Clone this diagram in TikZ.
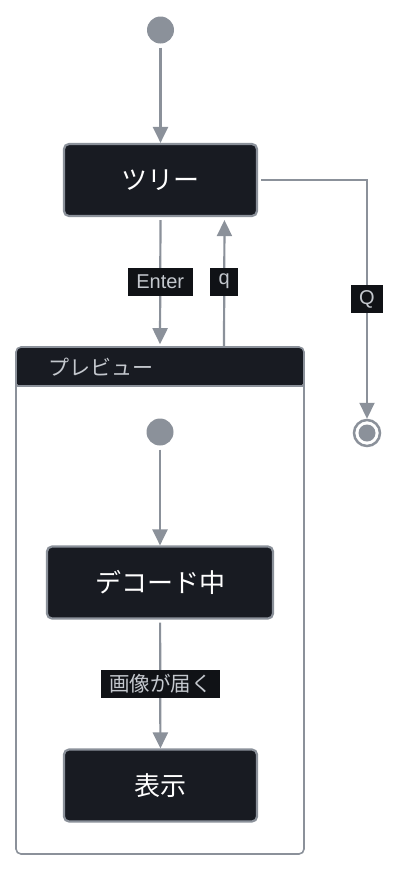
\documentclass[tikz,border=0pt]{standalone}
\usepackage{fontspec}
\setmainfont{Liberation Sans}
\newfontfamily\jpfont{Noto Sans CJK JP}
\usetikzlibrary{calc, positioning, arrows.meta}
\definecolor{stateFill}{HTML}{181B22}
\definecolor{edgeGray}{HTML}{8B919A}
\definecolor{labelFill}{HTML}{101216}
\definecolor{labelText}{HTML}{C4C8CE}

\tikzset{
  state/.style={draw=edgeGray, line width=2.2pt, fill=stateFill, rounded corners=5pt,
    text=white, font=\jpfont\fontsize{26}{30}\selectfont, minimum height=72pt, inner sep=0pt},
  startdot/.style={circle, fill=edgeGray, minimum size=27pt, inner sep=0pt},
  enddot/.style={circle, draw=edgeGray, line width=2.5pt, fill=white, minimum size=26pt, inner sep=0pt,
    path picture={\fill[edgeGray] (path picture bounding box.center) circle (8.5pt);}},
  trans/.style={draw=edgeGray, line width=2.2pt, -{Triangle[width=15pt,length=16pt]}},
  elabel/.style={fill=labelFill, text=labelText, font=\fontsize{20}{23}\selectfont,
    inner xsep=8.5pt, inner ysep=0pt, minimum height=28pt},
  container/.style={draw=edgeGray, line width=1.6pt, fill=white, rounded corners=5pt, inner sep=0pt,
    path picture={
      \fill[stateFill] (path picture bounding box.north west) rectangle ([yshift=-39pt]path picture bounding box.north east);
      \draw[edgeGray, line width=1.6pt] ([yshift=-39pt]path picture bounding box.north west) -- ([yshift=-39pt]path picture bounding box.north east);
    }},
  ctitle/.style={text=labelText, font=\jpfont\fontsize{21}{24}\selectfont, inner sep=0pt}
}

\begin{document}
\begin{tikzpicture}[x=1pt, y=-1pt]
  \useasboundingbox (0,0) rectangle (402,871);

  % outer level
  \node[startdot] (start) at (160.5,30) {};
  \node[state, minimum width=193pt] (tree) at (160.5,180) {ツリー};
  \node[enddot] (final) at (367,433) {};

  % preview composite state
  \node[container, minimum width=288pt, minimum height=507pt] (preview) at (160,600.5) {};
  \node[ctitle, anchor=west] (previewTitle) at (48,367) {プレビュー};
  \node[startdot] (innerStart) at (160,432) {};
  \node[state, minimum width=226pt] (decoding) at (160,582.5) {デコード中};
  \node[state, minimum width=193pt] (shown) at (160.5,785.5) {表示};

  % transitions
  \draw[trans, shorten <=4pt] (start) -- (tree);
  \draw[trans, shorten <=3pt, shorten >=2pt] (tree.south) -- node[elabel] {Enter} (preview.north);
  \draw[trans, shorten >=3pt] ([xshift=64pt]preview.north) -- node[elabel] {q} ([xshift=64pt]tree.south);
  \draw[trans, shorten <=3pt] (tree.east) -| node[elabel, pos=0.75] {Q} (final);
  \draw[trans, shorten <=4pt] (innerStart) -- (decoding);
  \draw[trans, shorten <=3pt] (decoding) -- node[elabel, font=\jpfont\fontsize{20.5}{24}\selectfont] {画像が届く} (shown);
\end{tikzpicture}
\end{document}
